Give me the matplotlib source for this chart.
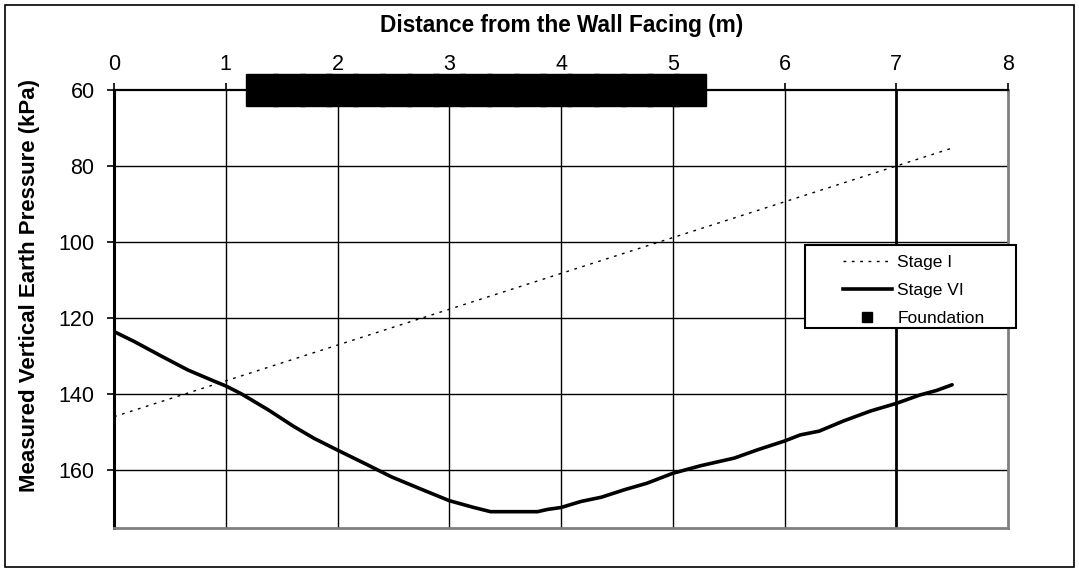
import numpy as np
import matplotlib
matplotlib.use("Agg")
import matplotlib.pyplot as plt
from matplotlib.lines import Line2D
from matplotlib.patches import Rectangle

plt.rcParams['font.family'] = ['Liberation Sans', 'DejaVu Sans']

# Stage I (straight dotted line)
stage1_x = [0.0, 7.5]
stage1_y = [146.0, 75.3]

# Stage VI
stage6_x = [0.0, 0.18, 0.42, 0.66, 0.9, 1.0, 1.14, 1.38, 1.61, 1.79, 2.0, 2.27,
            2.48, 2.75, 3.0, 3.22, 3.37, 3.6, 3.79, 3.88, 4.0, 4.18, 4.36, 4.57,
            4.77, 5.0, 5.25, 5.55, 5.76, 6.0, 6.14, 6.31, 6.53, 6.77, 7.0, 7.21,
            7.36, 7.5]
stage6_y = [123.6, 126.2, 130.0, 133.7, 136.7, 137.9, 140.0, 144.2, 148.6, 151.7,
            154.8, 158.7, 161.8, 165.1, 168.1, 169.9, 171.0, 171.0, 171.0, 170.4,
            169.9, 168.3, 167.2, 165.2, 163.5, 160.9, 158.9, 156.9, 154.7, 152.4,
            150.8, 149.8, 147.1, 144.5, 142.5, 140.3, 139.1, 137.6]

# Foundation markers along the top
found_x = [1.324 + 0.2394 * k for k in range(17)]
found_y = [60] * 17

xticks = [0, 1, 2, 3, 4, 5, 6, 7, 8]
yticks = [60, 80, 100, 120, 140, 160]

fig = plt.figure(figsize=(10.79, 5.72), dpi=100)
ax = fig.add_axes([0.1057, 0.0769, 0.8285, 0.7658])

# outer frame
fig.patches.append(Rectangle((0.005, 0.008), 0.99, 0.984, transform=fig.transFigure,
                             fill=False, edgecolor='black', linewidth=1.2))

ax.set_xlim(0, 8)
ax.set_ylim(175.3, 60)
ax.xaxis.tick_top()
ax.set_xticks(xticks)
ax.set_yticks(yticks)
ax.tick_params(axis='both', direction='out', length=5, width=1.2, labelsize=15.5,
               colors='black')
ax.tick_params(axis='x', pad=6)
ax.tick_params(axis='y', pad=9)

for v in xticks[1:-1]:
    ax.axvline(v, color='black', linewidth=2.0 if v == 7 else 1.0, zorder=1)
for v in yticks[1:]:
    ax.axhline(v, color='black', linewidth=1.0, zorder=1)

ax.spines['left'].set_linewidth(2.2)
ax.spines['top'].set_linewidth(1.6)
ax.spines['bottom'].set_color('#808080')
ax.spines['bottom'].set_linewidth(2)
ax.spines['right'].set_color('#808080')
ax.spines['right'].set_linewidth(2)

dots = (0, (2, 4))
ax.plot(stage1_x, stage1_y, color='black', linewidth=1.0, linestyle=dots, zorder=3)
ax.plot(stage6_x, stage6_y, color='black', linewidth=2.6, zorder=3,
        solid_capstyle='round')
ax.plot(found_x, found_y, linestyle='none', marker='s', markersize=23,
        color='black', clip_on=False, zorder=4)

# legend box drawn by hand, entries placed inside it
ax.add_patch(Rectangle((0.773, 0.4566), 0.236, 0.1895, transform=ax.transAxes,
                       facecolor='white', edgecolor='black', linewidth=1.5,
                       clip_on=False, zorder=5))
handles = [
    Line2D([], [], color='black', linewidth=1.0, linestyle=dots),
    Line2D([], [], color='black', linewidth=2.6),
    Line2D([], [], linestyle='none', marker='s', markersize=6.5, color='black'),
]
leg = ax.legend(handles, ['Stage I', 'Stage VI', 'Foundation'],
                loc='upper left', bbox_to_anchor=(0.8154, 0.6225),
                fontsize=12.5, frameon=False, borderpad=0, borderaxespad=0,
                handlelength=2.8, handletextpad=0.33, labelspacing=0.74)
leg.set_zorder(6)

fig.text(0.5204, 0.9446, 'Distance from the Wall Facing (m)', ha='center',
         va='baseline', fontsize=16.3, fontweight='bold')
fig.text(0.027, 0.5, 'Measured Vertical Earth Pressure (kPa)', ha='center',
         va='center', rotation=90, fontsize=16, fontweight='bold')

fig.savefig('out.png', dpi=100)
